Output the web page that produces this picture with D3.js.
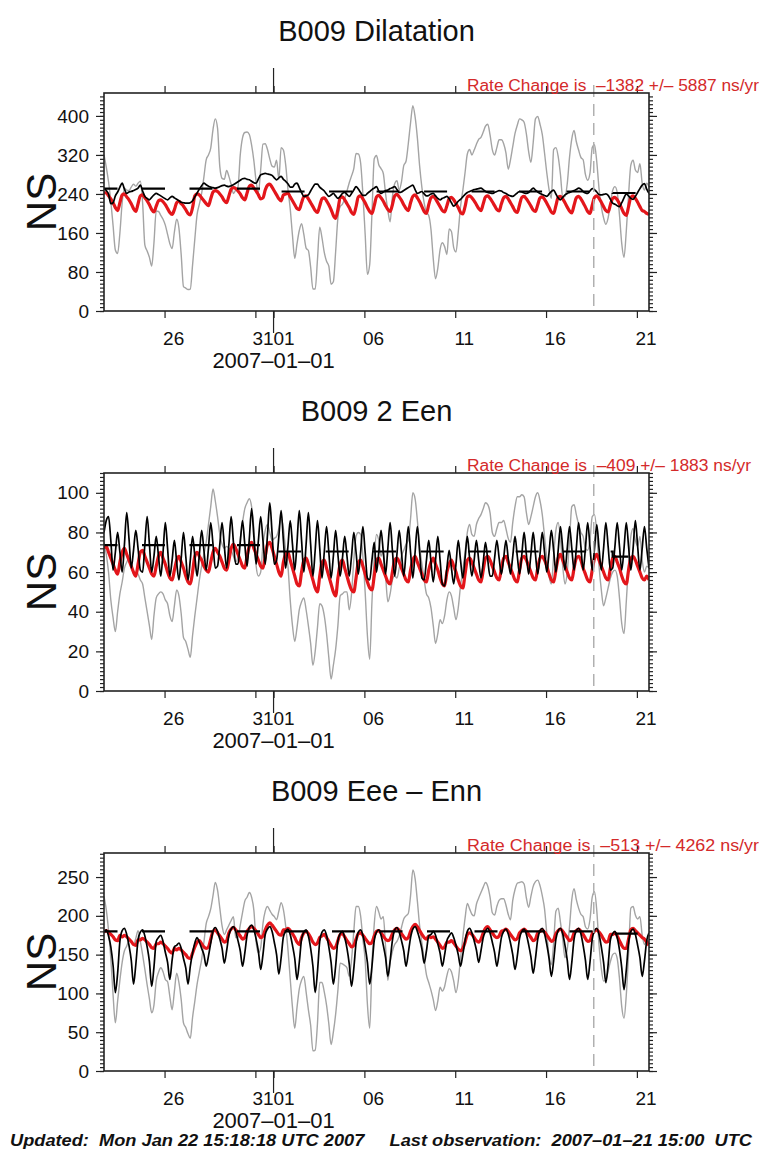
<!DOCTYPE html>
<html><head><meta charset="utf-8">
<script src="https://cdn.jsdelivr.net/npm/d3@7"></script>
<style>body{margin:0;background:#fff}svg{display:block}text{font-family:"Liberation Sans",Arial,Helvetica,sans-serif}</style>
</head><body>
<svg id="chart" width="779" height="1152"></svg>
<script>
// ---- sampling grid (3-hourly, from 2006-12-22 16:00 UTC) ----
const startTime = Date.UTC(2006, 11, 22, 16);
const endTime = Date.UTC(2007, 0, 21, 16);
const stepHours = 3;
const markerTime = Date.UTC(2007, 0, 18, 15);

// ---- axis ticks ----
const tickDates = [Date.UTC(2006,11,26), Date.UTC(2006,11,31), Date.UTC(2007,0,1), Date.UTC(2007,0,6), Date.UTC(2007,0,11), Date.UTC(2007,0,16), Date.UTC(2007,0,21)];
const tickLabels = ["26", "31", "01", "06", "11", "16", "21"];
const yearLabel = "2007–01–01";

// ---- titles / annotations ----
const titles = ["B009 Dilatation", "B009 2 Een", "B009 Eee – Enn"];
const rateTexts = ["Rate Change is  –1382 +/– 5887 ns/yr", "Rate Change is  –409 +/– 1883 ns/yr", "Rate Change is  –513 +/– 4262 ns/yr"];
const yLabel = "NS";
const footer = "Updated:  Mon Jan 22 15:18:18 UTC 2007     Last observation:  2007–01–21 15:00  UTC";
const yMaxes = [447, 110, 281];
const yMajorTicks = [[0,80,160,240,320,400], [0,20,40,60,80,100], [0,50,100,150,200,250]];
const yMinorSteps = [8, 2, 5];

// ---- Panel 1: Dilatation ----
const gray1 = [320,295,265,225,175,125,118,160,222,252,
248,247,254,260,256,262,266,222,135,123,
110,92,140,205,204,196,188,176,157,138,
128,162,188,170,115,50,47,44,45,94,
148,198,219,241,275,310,320,334,372,394,
375,296,272,270,288,276,259,241,248,254,
320,355,366,367,362,340,308,265,243,290,
342,343,331,312,297,295,309,270,335,330,
300,250,210,155,108,138,165,179,157,129,
124,90,45,45,105,172,150,120,102,92,
55,60,121,191,214,219,230,246,263,277,
292,323,322,304,240,158,75,95,200,312,
319,300,292,282,240,206,183,234,261,267,
248,265,298,307,343,386,421,398,355,297,
253,221,202,196,167,107,66,88,126,140,
132,116,168,163,130,121,162,214,247,284,
322,331,320,330,342,352,356,367,379,383,
361,331,320,335,351,351,343,324,291,310,
337,364,381,394,392,387,363,327,305,345,
394,399,383,362,324,283,249,231,331,335,
317,280,233,235,261,315,353,370,347,330,
315,310,280,268,282,335,341,306,251,214,
191,178,191,220,247,255,243,197,138,110,
164,238,299,309,289,284,302,262,248,262,255];
const black1 = [252,247,240,220,222,236,244,254,262,250,
241,244,245,247,249,252,258,246,235,231,
228,233,238,241,239,236,233,230,228,232,
235,232,229,226,223,222,221,221,222,226,
234,242,250,257,262,259,256,254,253,252,
253,255,257,258,256,255,257,259,262,265,
268,271,272,270,269,266,263,262,271,279,
281,282,281,280,278,273,269,273,276,270,
266,261,254,254,260,262,253,243,235,236,
238,246,254,260,260,254,250,246,240,235,
238,241,236,231,235,241,243,239,235,241,
248,255,250,243,237,237,241,245,249,252,
255,246,241,244,247,248,251,253,255,249,
243,244,247,250,253,256,258,249,241,243,
245,240,236,237,240,241,236,231,228,231,
233,235,230,222,215,219,225,229,234,239,
243,245,247,249,250,251,252,249,245,243,
242,241,243,245,247,246,243,241,238,236,
235,238,242,245,244,242,241,243,248,252,
248,244,241,239,237,235,240,245,248,240,
232,228,233,238,241,243,245,247,249,252,
250,245,242,241,246,251,249,244,239,238,
239,240,237,229,221,219,216,214,222,232,
240,236,231,229,235,243,251,258,261,250,241];
const red1 = [241,243,236,230,222,212,206,222,
238,240,234,228,220,210,204,220,
236,238,232,226,218,208,203,215,
226,228,224,218,210,202,198,208,
222,225,220,215,208,200,197,212,
236,240,238,232,226,220,216,230,
244,247,245,240,234,226,222,236,
250,253,251,246,240,232,228,242,
256,258,252,246,238,230,232,248,
258,260,254,246,238,230,226,238,
240,242,234,226,218,210,208,222,
234,236,230,222,214,206,202,216,
230,232,226,218,208,196,190,208,
232,234,228,220,212,202,198,214,
234,236,230,222,212,204,200,216,
234,237,232,225,216,208,204,218,
236,239,234,227,218,210,206,222,
235,238,232,224,214,204,200,218,
232,235,230,222,214,206,203,216,
230,233,228,220,212,202,199,214,
234,236,232,226,218,210,206,220,
234,236,231,224,216,208,205,220,
232,235,230,222,214,205,202,218,
233,235,230,223,215,207,204,218,
232,234,229,221,212,203,200,216,
233,235,230,222,213,205,201,217,
232,235,230,222,213,204,200,217,
233,236,231,223,214,206,203,218,
231,233,228,220,210,200,196,214,
233,236,231,223,214,206,204,200,
198];
const level1 = [251,251,251,251,251,251,251,251,251,245,245,245,245,245,245,245,245,245,245,245,245,245,245,245,245,245,245,245,242,242];

// ---- Panel 2: 2 Een ----
const gray2 = [75,69,60,46,37,30,40,49,55,62,
65,67,64,59,60,59,56,54,47,40,
33,26,38,47,49,50,49,46,44,38,
35,43,51,48,39,27,25,21,17,28,
38,47,56,63,69,75,84,93,102,96,
88,79,74,72,73,72,71,68,65,68,
77,85,92,95,97,93,82,63,58,60,
74,81,84,80,76,77,78,82,87,82,
71,63,46,33,25,32,41,45,47,41,
33,24,13,20,32,44,43,38,29,17,
6,13,21,33,48,49,50,50,41,49,
66,78,80,79,68,50,28,16,45,67,
79,76,68,71,58,45,49,56,58,57,
62,68,71,74,76,87,100,97,86,73,
64,56,49,47,42,33,24,29,36,34,
38,46,50,48,42,36,42,53,61,70,
80,84,79,78,84,87,89,92,95,94,
90,80,78,82,85,85,86,82,77,75,
85,93,98,98,99,98,90,84,88,93,
98,100,96,89,78,67,58,54,68,81,
85,77,63,54,60,76,93,94,89,84,
80,78,72,71,76,88,89,80,63,51,
43,47,52,57,60,61,58,47,34,29,
45,64,78,82,76,73,78,66,60,63,62];
const black2 = [80,86,88,76,61,70,80,70,60,74,
90,77,62,71,81,72,61,60,74,88,
74,60,68,78,68,58,70,85,72,58,
66,76,65,56,67,80,68,56,66,78,
68,58,69,81,71,61,72,85,74,62,
63,74,85,73,62,74,88,75,64,64,
75,86,74,63,77,92,78,64,76,88,
76,64,79,95,80,64,66,78,91,76,
62,73,86,74,61,75,91,76,60,74,
90,74,58,71,86,72,57,70,83,70,
57,68,81,69,58,67,78,68,58,68,
80,70,59,70,83,70,57,56,66,75,
60,70,81,70,59,72,85,71,58,69,
81,70,58,70,83,70,57,70,83,70,
57,56,66,76,65,55,66,78,66,54,
53,62,71,62,54,64,76,66,57,67,
78,67,58,66,76,66,57,65,75,66,
58,58,67,76,67,59,67,76,67,59,
68,78,68,59,69,80,69,59,69,80,
69,59,69,80,70,60,70,81,71,60,
71,83,72,61,72,83,72,61,72,85,
73,61,72,85,73,61,72,84,72,61,
72,85,73,61,62,73,85,73,61,72,
85,73,61,72,86,73,61,72,83,72,62];
const red2 = [72,73,70,67,64,61,59,65,
70,72,69,66,63,60,58,64,
70,71,68,65,62,59,58,63,
68,70,67,64,60,57,56,61,
66,68,65,62,58,55,54,60,
68,70,68,66,63,61,60,65,
70,72,70,68,65,62,61,66,
72,74,72,69,66,63,62,68,
73,75,72,69,66,63,62,68,
74,75,72,68,64,60,58,65,
69,70,66,62,58,54,53,60,
66,67,64,60,56,52,50,58,
65,66,62,58,54,50,48,57,
64,66,62,58,54,51,50,57,
65,66,63,59,55,52,51,58,
66,67,64,61,58,55,54,60,
66,67,65,62,59,56,55,61,
66,68,65,62,59,56,55,61,
65,67,64,61,57,54,53,60,
64,66,63,60,56,53,52,59,
66,67,65,62,59,56,55,61,
67,68,66,63,60,57,56,62,
67,68,65,62,59,56,55,61,
67,68,66,63,60,57,56,62,
67,68,66,63,59,56,55,61,
67,69,66,63,60,57,56,62,
67,68,66,62,59,56,55,61,
67,69,66,63,60,57,56,62,
67,68,65,62,58,55,54,61,
67,68,66,63,60,57,56,58,
56];
const level2 = [73.6,73.6,73.6,73.6,73.6,73.6,73.6,73.6,73.6,70.4,70.4,70.4,70.4,70.4,70.4,70.4,70.4,70.4,70.4,70.4,70.4,70.4,70.4,70.4,70.4,70.4,70.4,70.4,67.8,67.8];

// ---- Panel 3: Eee - Enn ----
const gray3 = [225,208,181,145,98,62,90,117,140,155,
161,168,166,162,171,181,167,150,131,111,
93,75,85,116,127,133,128,118,115,96,
79,103,126,114,92,62,56,48,42,69,
90,112,128,144,166,190,199,209,226,243,
233,210,187,176,182,188,194,199,172,172,
188,204,219,224,230,224,207,166,152,159,
190,206,212,207,202,199,195,206,217,208,
187,157,119,82,55,82,106,117,122,102,
79,59,26,27,61,114,114,102,85,61,
34,50,73,104,139,138,136,133,122,143,
180,212,212,200,170,143,86,55,137,189,
212,205,196,199,160,117,140,154,163,167,
174,185,196,200,203,226,259,248,219,187,
165,144,124,114,104,92,78,90,108,103,
109,123,132,128,116,101,116,145,172,197,
216,209,202,200,215,223,230,237,243,238,
224,204,201,212,220,222,222,214,202,195,
220,234,242,243,244,241,223,211,225,238,
244,246,239,226,209,177,148,137,165,206,
210,192,170,146,157,186,221,235,221,210,
202,199,186,183,195,224,231,207,162,132,
116,117,129,141,150,152,145,119,83,68,
98,151,210,212,201,196,199,175,163,169,165];
const black3 = [179,182,174,160,136,101,126,167,
181,184,176,162,143,112,137,169,
179,182,174,160,141,109,134,167,
172,175,167,153,140,118,143,160,
162,165,158,145,133,112,135,152,
165,172,166,158,150,135,148,165,
180,185,180,170,158,139,155,175,
183,186,180,168,155,135,152,175,
185,188,182,170,154,131,150,176,
183,186,180,166,150,125,146,173,
180,183,176,162,145,118,140,170,
179,182,174,158,135,101,128,167,
179,182,175,160,140,112,135,168,
177,180,172,158,138,109,132,165,
179,182,175,160,140,112,135,168,
179,182,175,162,146,122,142,168,
182,185,179,168,155,135,152,172,
183,186,180,170,157,139,155,174,
176,180,175,164,152,135,150,168,
174,178,172,162,150,135,150,168,
180,184,178,168,156,140,155,172,
180,184,178,166,153,135,152,172,
180,183,177,165,150,131,148,171,
180,183,176,163,147,126,145,170,
181,184,177,163,145,122,142,170,
181,184,177,162,143,118,140,170,
181,184,177,162,143,118,140,170,
181,184,176,160,140,114,137,169,
177,180,172,156,133,105,130,165,
180,183,176,162,146,122,142,168,
178];
const red3 = [179,181,179,176,173,169,168,175,
173,175,173,170,167,163,162,169,
169,171,169,166,163,159,158,164,
164,166,164,161,158,154,152,158,
156,158,156,153,150,146,145,152,
160,166,168,164,160,158,160,170,
180,182,178,174,170,166,168,178,
183,185,182,178,174,170,172,180,
184,186,184,180,176,172,174,182,
188,191,188,184,180,176,175,182,
182,184,181,177,172,166,163,172,
178,180,177,172,166,163,165,172,
174,176,172,167,162,158,160,168,
176,177,173,168,164,160,162,170,
177,178,175,171,167,164,166,174,
180,181,178,174,170,168,170,177,
182,184,181,177,173,170,172,180,
186,189,186,181,176,172,170,174,
172,173,170,166,162,158,160,166,
166,168,165,161,157,155,158,166,
176,178,176,172,168,166,170,178,
184,186,182,178,174,172,174,180,
181,183,180,176,172,169,171,178,
181,183,180,176,172,168,170,178,
180,182,179,175,171,167,169,177,
181,183,180,176,172,168,170,178,
181,183,180,176,171,167,168,177,
180,182,179,175,170,166,167,176,
176,178,174,168,162,158,158,170,
182,184,181,178,175,172,170,166,
162];
const level3 = [180,180,180,180,180,180,180,180,180,180,180,180,180,180,180,180,180,180,180,180,180,180,180,180,180,180,180,180,177,177];

const grays = [gray1, gray2, gray3];
const blacks = [black1, black2, black3];
const reds = [red1, red2, red3];
const levels = [level1, level2, level3];

// ---- layout ----
const svg = d3.select("#chart");
const plotLeft = 104, plotRight = 649, plotH = 218;
const panelTops = [93, 473, 853];
const x = d3.scaleUtc().domain([new Date(startTime), new Date(endTime)]).range([plotLeft, plotRight]);
const sampleTime = i => new Date(startTime + i * stepHours * 3600e3);
const dayTime = i => new Date(startTime + i * 24 * 3600e3);
const fontFam = '"Liberation Sans",Arial,Helvetica,sans-serif';
const defs = svg.append("defs");

// group tick labels that would collide (31 and 01 sit next to each other)
const labelGroups = [];
tickDates.forEach((t, k) => {
  const cx = x(new Date(t + 12 * 3600e3));
  const last = labelGroups[labelGroups.length - 1];
  if (last && cx - last.cx1 < 22) { last.text += tickLabels[k]; last.cx1 = cx; }
  else labelGroups.push({ text: tickLabels[k], cx0: cx, cx1: cx });
});

panelTops.forEach((top, p) => {
  const bottom = top + plotH;
  const y = d3.scaleLinear().domain([0, yMaxes[p]]).range([bottom, top]);
  const g = svg.append("g");
  const clipId = "clip" + p;
  defs.append("clipPath").attr("id", clipId)
    .append("rect").attr("x", plotLeft).attr("y", top).attr("width", plotRight - plotLeft).attr("height", plotH);

  // title
  g.append("text").attr("x", (plotLeft + plotRight) / 2).attr("y", top - 52)
    .attr("text-anchor", "middle").attr("font-size", 29).attr("fill", "#111").text(titles[p]);

  // y label
  g.append("text").attr("transform", `translate(${56},${(top + bottom) / 2}) rotate(-90)`)
    .attr("text-anchor", "middle").attr("font-size", 42).attr("fill", "#111").text(yLabel);

  const lines = g.append("g").attr("clip-path", `url(#${clipId})`);
  const lineGen = d3.line().x((d, i) => x(sampleTime(i))).y(d => y(d)).curve(d3.curveMonotoneX);

  lines.append("path").datum(grays[p]).attr("d", lineGen).attr("fill", "none")
    .attr("stroke", "#a4a4a4").attr("stroke-width", 1.4).attr("stroke-linejoin", "round");
  lines.append("path").datum(reds[p]).attr("d", lineGen).attr("fill", "none")
    .attr("stroke", "#e3161b").attr("stroke-width", 3.2).attr("stroke-linejoin", "round");
  lines.append("path").datum(blacks[p]).attr("d", lineGen).attr("fill", "none")
    .attr("stroke", "#000").attr("stroke-width", 1.7).attr("stroke-linejoin", "round");

  // dashed reference levels (daily steps)
  const lv = levels[p].concat([levels[p][levels[p].length - 1]]);
  const levelGen = d3.line().x((d, i) => x(dayTime(i))).y(d => y(d)).curve(d3.curveStepAfter);
  lines.append("path").datum(lv).attr("d", levelGen).attr("fill", "none")
    .attr("stroke", "#000").attr("stroke-width", 2.2)
    .attr("stroke-dasharray", "23,24.5").attr("stroke-dashoffset", 9.5);

  // vertical marker
  g.append("line").attr("x1", x(new Date(markerTime))).attr("x2", x(new Date(markerTime)))
    .attr("y1", top - 8).attr("y2", bottom)
    .attr("stroke", "#b0b0b0").attr("stroke-width", 1.5).attr("stroke-dasharray", "12,7");

  // frame
  g.append("rect").attr("x", plotLeft).attr("y", top).attr("width", plotRight - plotLeft).attr("height", plotH)
    .attr("fill", "none").attr("stroke", "#222").attr("stroke-width", 1.6);

  // y axes
  const minorVals = d3.range(0, yMaxes[p] + 0.001, yMinorSteps[p]);
  const styleAxis = sel => { sel.select(".domain").remove(); sel.selectAll("line").attr("stroke", "#222").attr("stroke-width", 1.2); };
  g.append("g").attr("transform", `translate(${plotLeft},0)`)
    .call(d3.axisLeft(y).tickValues(minorVals).tickSize(4).tickFormat("")).call(styleAxis);
  const yl = g.append("g").attr("transform", `translate(${plotLeft},0)`)
    .call(d3.axisLeft(y).tickValues(yMajorTicks[p]).tickSize(8).tickPadding(7)).call(styleAxis);
  yl.selectAll("text").attr("font-size", 19).attr("font-family", fontFam).attr("fill", "#111");
  g.append("g").attr("transform", `translate(${plotRight},0)`)
    .call(d3.axisRight(y).tickValues(minorVals).tickSize(4).tickFormat("")).call(styleAxis);
  g.append("g").attr("transform", `translate(${plotRight},0)`)
    .call(d3.axisRight(y).tickValues(yMajorTicks[p]).tickSize(8).tickFormat("")).call(styleAxis);

  // x axes (ticks only; labels centered in the day interval)
  const tickD = tickDates.map(t => new Date(t));
  g.append("g").attr("transform", `translate(0,${bottom})`)
    .call(d3.axisBottom(x).tickValues(tickD).tickSize(7).tickFormat("")).call(styleAxis);
  g.append("g").attr("transform", `translate(0,${top})`)
    .call(d3.axisTop(x).tickValues(tickD).tickSize(7).tickFormat("")).call(styleAxis);
  // long tick at year boundary
  const xy = x(new Date(tickDates[2]));
  g.append("line").attr("x1", xy).attr("x2", xy).attr("y1", top - 25).attr("y2", top).attr("stroke", "#222").attr("stroke-width", 1.2);
  g.append("line").attr("x1", xy).attr("x2", xy).attr("y1", bottom).attr("y2", bottom + 22).attr("stroke", "#222").attr("stroke-width", 1.2);

  labelGroups.forEach(lg => {
    g.append("text").attr("x", (lg.cx0 + lg.cx1) / 2).attr("y", bottom + 34)
      .attr("text-anchor", "middle").attr("font-size", 19).attr("fill", "#111").text(lg.text);
  });
  g.append("text").attr("x", xy).attr("y", bottom + 57).attr("text-anchor", "middle")
    .attr("font-size", 22).attr("fill", "#111").text(yearLabel);

  // rate text
  g.append("text").attr("x", 467).attr("y", top - 2).attr("font-size", 16).attr("fill", "#d42a2a")
    .style("white-space", "pre").attr("textLength", p === 1 ? 284 : 292).attr("lengthAdjust", "spacingAndGlyphs")
    .text(rateTexts[p]);
});

svg.append("text").attr("x", 10).attr("y", 1146).attr("font-size", 16).attr("font-weight", "bold")
  .attr("font-style", "italic").attr("fill", "#111").style("white-space", "pre")
  .attr("textLength", 742).attr("lengthAdjust", "spacingAndGlyphs").text(footer);
</script>
</body></html>
